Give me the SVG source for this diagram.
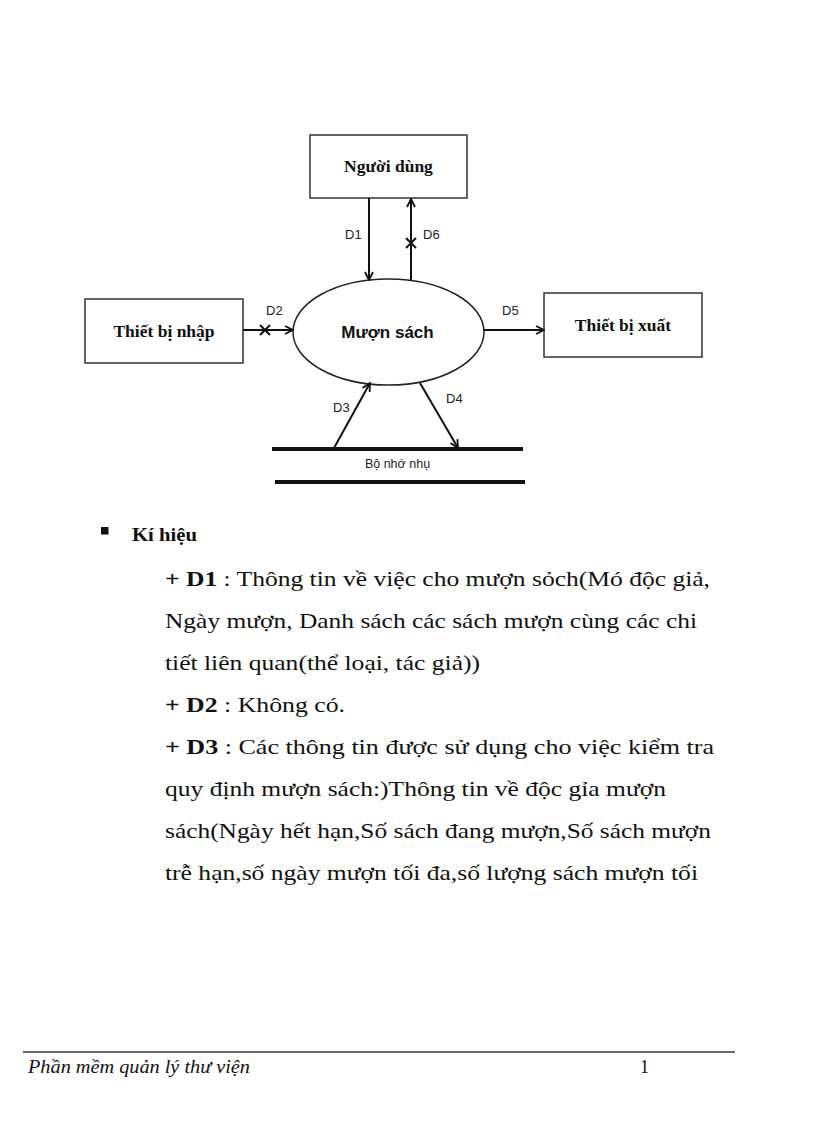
<svg xmlns="http://www.w3.org/2000/svg" width="816" height="1123" viewBox="0 0 816 1123">
<style>
.box{fill:#fff;stroke:#333;stroke-width:1.5}
.ent{font-family:"Liberation Serif",serif;font-weight:bold;font-size:17.5px;fill:#111;text-anchor:middle}
.lbl{font-family:"Liberation Sans",Arial,sans-serif;font-size:13px;fill:#222}
.flow{stroke:#111;stroke-width:2;fill:none}
.body{font-family:"Liberation Serif",serif;font-size:21px;fill:#111}
.b{font-weight:bold}
</style>
<defs>
<marker id="arr" viewBox="0 0 10 10" refX="9" refY="5" markerWidth="10" markerHeight="10" markerUnits="userSpaceOnUse" orient="auto">
<path d="M1,1 L9,5 L1,9" fill="none" stroke="#111" stroke-width="1.8"/>
</marker>
</defs>
<rect width="816" height="1123" fill="#fff"/>

<g id="nguoi-dung">
<rect class="box" x="310" y="135" width="157" height="63"/>
<text class="ent" x="388.5" y="172">Người dùng</text>
</g>
<g id="thiet-bi-nhap">
<rect class="box" x="85" y="299" width="158" height="64"/>
<text class="ent" x="164" y="337">Thiết bị nhập</text>
</g>
<g id="thiet-bi-xuat">
<rect class="box" x="544" y="293" width="158" height="64"/>
<text class="ent" x="623" y="331">Thiết bị xuất</text>
</g>
<g id="muon-sach">
<ellipse cx="388.5" cy="332" rx="95.5" ry="53" fill="#fff" stroke="#222" stroke-width="1.5"/>
<text x="387.5" y="338" font-family="'Liberation Sans',Arial,sans-serif" font-weight="bold" font-size="17" fill="#111" text-anchor="middle">Mượn sách</text>
</g>
<g id="bo-nho-nhu">
<line x1="272" y1="449" x2="523" y2="449" stroke="#111" stroke-width="4"/>
<line x1="275" y1="482" x2="525" y2="482" stroke="#111" stroke-width="4"/>
<text x="397.5" y="468" font-family="'Liberation Sans',Arial,sans-serif" font-size="12.5" fill="#222" text-anchor="middle">Bộ nhớ nhụ</text>
</g>

<g id="connectors">
<line class="flow" x1="369" y1="198" x2="369" y2="280" marker-end="url(#arr)"/>
<text class="lbl" x="345" y="239">D1</text>
<line class="flow" x1="411" y1="280" x2="411" y2="199" marker-end="url(#arr)"/>
<path class="flow" d="M406,238 L416,248 M416,238 L406,248" stroke-width="1.8"/>
<text class="lbl" x="423" y="239">D6</text>
<line class="flow" x1="243" y1="330" x2="293" y2="330" marker-end="url(#arr)"/>
<path class="flow" d="M260,325 L270,335 M270,325 L260,335" stroke-width="1.8"/>
<text class="lbl" x="266" y="315">D2</text>
<line class="flow" x1="484" y1="330" x2="544" y2="330" marker-end="url(#arr)"/>
<text class="lbl" x="502" y="315">D5</text>
<line class="flow" x1="334" y1="448" x2="370" y2="383" marker-end="url(#arr)"/>
<text class="lbl" x="333" y="412">D3</text>
<line class="flow" x1="420" y1="383" x2="458" y2="448" marker-end="url(#arr)"/>
<text class="lbl" x="446" y="403">D4</text>
</g>

<g id="ki-hieu">
<rect x="101" y="527" width="7.5" height="7.5" fill="#111"/>
<text x="132" y="541" font-family="'Liberation Serif',serif" font-weight="bold" font-size="19" fill="#111" textLength="65" lengthAdjust="spacingAndGlyphs">Kí hiệu</text>
<text class="body" x="165" y="586" textLength="545" lengthAdjust="spacingAndGlyphs"><tspan class="b">+ D1</tspan> : Thông  tin về  việc cho mượn  sỏch(Mó độc giả,</text>
<text class="body" x="165" y="628" textLength="532" lengthAdjust="spacingAndGlyphs">Ngày  mượn, Danh  sách các sách mượn  cùng các chi</text>
<text class="body" x="165" y="670" textLength="315" lengthAdjust="spacingAndGlyphs">tiết liên quan(thể  loại, tác giả))</text>
<text class="body" x="165" y="712" textLength="180" lengthAdjust="spacingAndGlyphs"><tspan class="b">+ D2</tspan> : Không  có.</text>
<text class="body" x="165" y="754" textLength="549" lengthAdjust="spacingAndGlyphs"><tspan class="b">+ D3</tspan> : Các thông tin được sử dụng  cho việc kiểm tra</text>
<text class="body" x="165" y="796" textLength="501" lengthAdjust="spacingAndGlyphs">quy  định mượn  sách:)Thông  tin về độc gỉa mượn</text>
<text class="body" x="165" y="838" textLength="546" lengthAdjust="spacingAndGlyphs">sách(Ngày  hết hạn,Số  sách đang mượn,Số  sách mượn</text>
<text class="body" x="165" y="880" textLength="533" lengthAdjust="spacingAndGlyphs">trễ hạn,số  ngày  mượn tối đa,số lượng  sách mượn tối</text>
</g>

<g id="footer">
<line x1="23" y1="1052" x2="735" y2="1052" stroke="#333" stroke-width="1.3"/>
<text x="28" y="1073" font-family="'Liberation Serif',serif" font-style="italic" font-size="18" fill="#111" textLength="222" lengthAdjust="spacingAndGlyphs">Phần mềm quản lý thư viện</text>
<text x="640" y="1073" font-family="'Liberation Serif',serif" font-size="18" fill="#111">1</text>
</g>
</svg>
